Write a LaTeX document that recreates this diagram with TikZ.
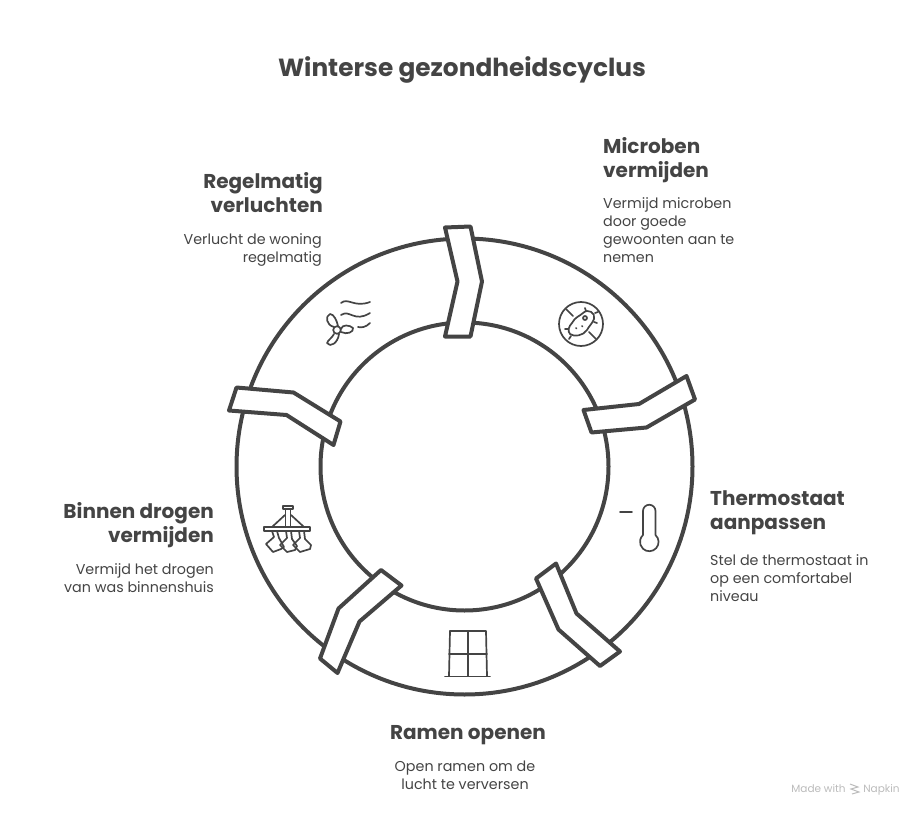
\documentclass[tikz,border=0pt]{standalone}
\usepackage{fontspec}
\setmainfont{Poppins}
\definecolor{inkgrey}{HTML}{444444}
\definecolor{markgrey}{HTML}{BBBBBB}
\tikzset{
  ringline/.style={draw=inkgrey,line width=4pt},
  bandline/.style={draw=inkgrey,line width=4pt,fill=white,line join=round},
  iconline/.style={draw=inkgrey,line width=1.7pt,line cap=round,line join=round},
  headtext/.style={text=inkgrey,inner sep=0pt,font=\fontsize{20}{24.5}\selectfont\bfseries},
  bodytext/.style={text=inkgrey,inner sep=0pt,font=\fontsize{14.3}{18.1}\selectfont},
  marktext/.style={text=markgrey,inner sep=0pt,anchor=base,font=\fontsize{10.5}{13}\selectfont}
}
\begin{document}
\begin{tikzpicture}[x=1pt,y=-1pt]
        \useasboundingbox (0,0) rectangle (924,816);

        % Ring
        \draw[ringline] (464.5,466.5) circle (228);
        \draw[ringline] (464.5,466.5) circle (144);

        % Bands across the ring
        \draw[bandline] (445,227.5) -- (470.5,226.5) -- (482,281.5) -- (470.5,336.5) -- (445,336.5) -- (457.5,281.5) -- cycle;
        \draw[bandline] (583.5,410) -- (639,404) -- (686.5,376) -- (695,399.5) -- (646.5,427.5) -- (591.5,432.5) -- cycle;
        \draw[bandline] (536,578.5) -- (556,563.5) -- (576.5,613.5) -- (620,651.5) -- (600,666) -- (558.5,629.5) -- cycle;
        \draw[bandline] (381,570) -- (401.5,585.5) -- (359.5,621.5) -- (337.5,673) -- (320,658.5) -- (338.5,608.5) -- cycle;
        \draw[bandline] (236.5,387.5) -- (293.5,392.5) -- (340.5,421.5) -- (333.5,445) -- (286.5,415) -- (229,410.5) -- cycle;

        % Title
        \node[text=inkgrey,font=\fontsize{24.8}{30}\selectfont\bfseries] (title) at (462,70) {Winterse gezondheidscyclus};

        % Microben
        \node[headtext,anchor=north west,align=left] (microbenhead) at (603,137) {Microben\\vermijden};
        \node[bodytext,anchor=north west,align=left] (microbenbody) at (603,197) {Vermijd microben\\door goede\\gewoonten aan te\\nemen};

        % Regelmatig
        \node[headtext,anchor=north east,align=right] (regelhead) at (323,172) {Regelmatig\\verluchten};
        \node[bodytext,anchor=north east,align=right] (regelbody) at (322,233) {Verlucht de woning\\regelmatig};

        % Thermostaat
        \node[headtext,anchor=north west,align=left] (thermohead) at (710,490) {Thermostaat\\aanpassen};
        \node[bodytext,anchor=north west,align=left] (thermobody) at (710,554) {Stel de thermostaat in\\op een comfortabel\\niveau};

        % Binnen drogen
        \node[headtext,anchor=north east,align=right] (drogenhead) at (214,502) {Binnen drogen\\vermijden};
        \node[bodytext,anchor=north east,align=right] (drogenbody) at (214,563) {Vermijd het drogen\\van was binnenshuis};

        % Ramen
        \node[headtext,anchor=north,align=center] (ramenhead) at (468,725) {Ramen openen};
        \node[bodytext,anchor=north,align=center] (ramenbody) at (465,761) {Open ramen om de\\lucht te verversen};

        % Footer
        \node[marktext] (madewith) at (818.5,792) {Made with};
        \node[marktext] (napkin) at (881.5,792) {Napkin};
        \draw[markgrey,line width=1pt] (850,784) -- (858,787) -- (851,789) -- (859,792) -- (852,794);

        % Fan icon
        \draw[iconline] (337,330) circle (3.8);
        \draw[iconline] (334,327) .. controls (326,325) and (325,316) .. (330,314) .. controls (334,314) and (337,321) .. (338,326);
        \draw[iconline] (341,329) .. controls (342,324) and (350,325) .. (353,328) .. controls (354,332) and (347,335) .. (341,332);
        \draw[iconline] (334,334) .. controls (332,338) and (328,340) .. (327,343) .. controls (330,348) and (338,343) .. (339,334);
        \draw[iconline] (341,303) .. controls (348,297) and (354,308) .. (370,302);
        \draw[iconline] (341,315) .. controls (350,309) and (354,323) .. (370,313);
        \draw[iconline] (358,327) .. controls (362,328) and (366,327) .. (370,323);

        % Microbe icon
        \draw[iconline] (581,324) circle (22);
        \draw[iconline] (566,309) -- (573,316);
        \draw[iconline] (589,332) -- (596,339);
        \draw[iconline] (572,323) .. controls (575,317) and (580,316) .. (583,313) .. controls (588,308) and (596,313) .. (594,319) .. controls (592,324) and (589,326) .. (587,330) .. controls (583,336) and (574,337) .. (570,334) .. controls (567,331) and (569,326) .. (572,323) -- cycle;
        \draw[iconline] (585,318) circle (2);
        \draw[iconline] (576,328) -- (576.5,328.5);
        \draw[iconline] (582,326) -- (582.5,326.5);
        \draw[iconline] (586,311) -- (585,308);
        \draw[iconline] (595,313) -- (598,312);
        \draw[iconline] (594,322) -- (597,323);
        \draw[iconline] (571,336) -- (569,339);
        \draw[iconline] (568,329) -- (565,329);

        % Thermometer icon
        \draw[iconline] (620,512) -- (632,512);
        \draw[iconline] (643,535) -- (643,511) arc[start angle=180,end angle=360,radius=6.25] -- (655.5,535) arc[start angle=-48,end angle=228,radius=9.3];

        % Window icon
        \draw[iconline] (450,631) -- (486,631) -- (487,676);
        \draw[iconline] (450,631) -- (449,676);
        \draw[iconline] (445,676.5) -- (490,676.5);
        \draw[iconline] (468,631) -- (468,676);
        \draw[iconline] (449,654) -- (487,654);

        % Drying rack icon
        \draw[iconline] (283,506) rectangle (293,509);
        \draw[iconline] (285.5,509) -- (285.5,527);
        \draw[iconline] (290.5,509) -- (290.5,527);
        \draw[iconline] (264,527) rectangle (310,531);
        \draw[iconline] (272,527) -- (285,515);
        \draw[iconline] (304,527) -- (291,515);
        \draw[iconline] (272,531) -- (274,537) -- (266,544) -- (273,552) -- (281,549) -- (284,547) -- (279,538) -- (277,531);
        \draw[iconline] (286,531) -- (287,538) -- (280,545) -- (287,552) -- (295,550) -- (297,546) -- (292,539) -- (291,531);
        \draw[iconline] (299,531) -- (300,538) -- (293,545) -- (300,552) -- (310,549) -- (311,545) -- (305,539) -- (304,531);
\end{tikzpicture}
\end{document}
